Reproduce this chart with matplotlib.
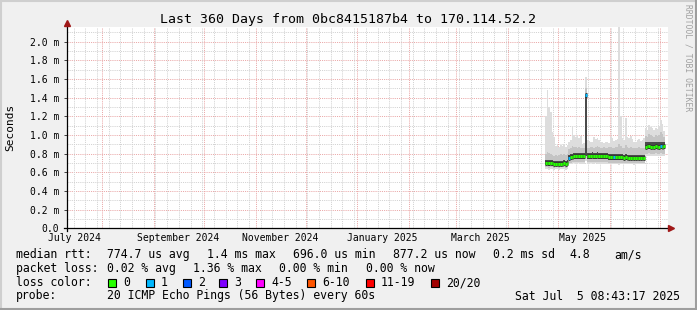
import matplotlib.pyplot as plt
from matplotlib.lines import Line2D
from matplotlib.patches import Rectangle
import numpy as np
import pandas as pd

plt.rcParams['font.family'] = ['DejaVu Sans Mono']

W, H = 697, 310

title = "Last 360 Days from 0bc8415187b4 to 170.114.52.2"
t_start = pd.Timestamp('2024-07-11 06:00')
t_end = pd.Timestamp('2025-07-06 06:00')

# rrd rows, one per day, starting here
bin_start = '2025-04-23 12:00'
bin_freq = '1D'

# median rtt per row (ms) and lost pings per row
median = [0.70, 0.70, 0.70, 0.70, 0.70, 0.69, 0.69, 0.69, 0.69, 0.69, 0.69, 0.70, 0.69, 0.70,
          0.75, 0.76, 0.76, 0.77, 0.77, 0.77, 0.77, 0.77, 0.77, 0.77, 1.43, 0.77,
          0.77, 0.77, 0.78, 0.77, 0.77, 0.78, 0.77, 0.77, 0.77, 0.77, 0.77, 0.77,
          0.76, 0.76, 0.76, 0.76, 0.76, 0.76, 0.76, 0.76, 0.76, 0.75, 0.76, 0.75,
          0.75, 0.75, 0.75, 0.75, 0.75, 0.75, 0.75, 0.75, 0.75, 0.75,
          0.87, 0.88, 0.88, 0.87, 0.87, 0.87, 0.88, 0.87, 0.87, 0.88, 0.87, 0.88]
loss = [0, 0, 0, 0, 0, 0, 0, 0, 0, 0, 0, 0, 0, 0,
        1, 0, 0, 0, 0, 0, 0, 0, 0, 0, 1, 0,
        0, 0, 0, 0, 0, 0, 0, 0, 0, 0, 0, 0,
        0, 0, 0, 1, 0, 0, 0, 0, 0, 0, 0, 0,
        0, 0, 0, 0, 0, 0, 0, 0, 0, 0,
        0, 0, 0, 0, 0, 0, 0, 0, 0, 1, 0, 0]

# smoke: spread of the 20 pings per row (ms)
ping_min = [0.64, 0.64, 0.63, 0.64, 0.64, 0.63, 0.64, 0.64, 0.63, 0.64, 0.64, 0.64, 0.63, 0.64,
            0.69, 0.69, 0.69, 0.70, 0.69, 0.69, 0.70, 0.69, 0.69, 0.69, 0.72, 0.69,
            0.69, 0.70, 0.69, 0.69, 0.70, 0.69, 0.69, 0.69, 0.70, 0.69, 0.69, 0.69,
            0.69, 0.69, 0.69, 0.69, 0.69, 0.69, 0.68, 0.69, 0.69, 0.69, 0.69, 0.69,
            0.69, 0.69, 0.69, 0.68, 0.69, 0.69, 0.69, 0.69, 0.69, 0.69,
            0.78, 0.77, 0.78, 0.78, 0.77, 0.78, 0.78, 0.77, 0.78, 0.78, 0.77, 0.78]
ping_p10 = [0.655, 0.655, 0.65, 0.655, 0.655, 0.65, 0.655, 0.655, 0.65, 0.655, 0.655, 0.655, 0.65, 0.655,
            0.705, 0.705, 0.71, 0.71, 0.71, 0.71, 0.71, 0.71, 0.71, 0.71, 0.75, 0.71,
            0.71, 0.71, 0.71, 0.71, 0.71, 0.71, 0.71, 0.71, 0.71, 0.71, 0.71, 0.71,
            0.705, 0.705, 0.705, 0.705, 0.705, 0.705, 0.70, 0.705, 0.705, 0.70, 0.705, 0.70,
            0.70, 0.70, 0.70, 0.70, 0.70, 0.70, 0.70, 0.70, 0.70, 0.70,
            0.80, 0.80, 0.81, 0.80, 0.80, 0.80, 0.81, 0.80, 0.80, 0.81, 0.80, 0.80]
ping_p25 = [0.675, 0.675, 0.67, 0.675, 0.67, 0.67, 0.67, 0.67, 0.67, 0.67, 0.67, 0.675, 0.67, 0.675,
            0.73, 0.735, 0.74, 0.745, 0.745, 0.745, 0.745, 0.745, 0.745, 0.745, 0.77, 0.745,
            0.745, 0.745, 0.75, 0.745, 0.745, 0.75, 0.745, 0.745, 0.745, 0.745, 0.745, 0.745,
            0.735, 0.735, 0.735, 0.735, 0.735, 0.735, 0.735, 0.735, 0.735, 0.73, 0.735, 0.73,
            0.73, 0.73, 0.73, 0.73, 0.73, 0.73, 0.73, 0.73, 0.73, 0.73,
            0.845, 0.85, 0.85, 0.845, 0.845, 0.845, 0.85, 0.845, 0.845, 0.85, 0.845, 0.85]
ping_p75 = [0.73, 0.73, 0.73, 0.73, 0.73, 0.72, 0.72, 0.72, 0.72, 0.72, 0.72, 0.73, 0.72, 0.73,
            0.79, 0.80, 0.80, 0.81, 0.81, 0.81, 0.81, 0.81, 0.81, 0.81, 1.44, 0.81,
            0.81, 0.81, 0.82, 0.81, 0.81, 0.82, 0.81, 0.81, 0.81, 0.81, 0.81, 0.81,
            0.80, 0.80, 0.80, 0.80, 0.80, 0.80, 0.80, 0.80, 0.80, 0.79, 0.80, 0.79,
            0.79, 0.79, 0.79, 0.79, 0.79, 0.79, 0.79, 0.79, 0.79, 0.79,
            0.92, 0.93, 0.93, 0.92, 0.92, 0.92, 0.93, 0.92, 0.92, 0.93, 0.92, 0.93]
ping_p90 = [0.80, 0.82, 0.81, 0.80, 0.79, 0.78, 0.79, 0.78, 0.79, 0.80, 0.79, 0.80, 0.79, 0.80,
            0.85, 0.86, 0.88, 0.87, 0.87, 0.86, 0.87, 0.86, 0.86, 0.86, 1.50, 0.86,
            0.86, 0.87, 0.87, 0.86, 0.87, 0.88, 0.87, 0.86, 0.86, 0.87, 0.86, 0.86,
            0.87, 0.87, 0.86, 0.86, 0.87, 0.87, 0.90, 0.88, 0.86, 0.86, 0.89, 0.87,
            0.86, 0.87, 0.86, 0.86, 0.86, 0.86, 0.87, 0.86, 0.86, 0.86,
            0.99, 0.98, 1.01, 1.00, 0.99, 0.98, 1.00, 0.99, 1.00, 1.03, 1.01, 0.98]
ping_max = [1.20, 1.48, 1.30, 1.25, 1.03, 0.98, 0.88, 0.90, 0.87, 0.89, 0.88, 0.90, 0.87, 0.89,
            0.93, 0.95, 1.10, 1.00, 0.98, 1.00, 0.97, 0.99, 0.90, 0.91, 1.62, 0.95,
            0.94, 0.93, 0.92, 0.98, 0.96, 0.97, 0.95, 0.92, 0.93, 0.91, 0.92, 0.93,
            0.91, 0.98, 0.97, 0.94, 0.95, 0.96, 2.40, 1.20, 0.97, 0.95, 1.18, 0.98,
            0.97, 0.99, 0.96, 0.93, 0.92, 0.95, 0.96, 0.94, 0.95, 0.97,
            1.07, 1.05, 1.11, 1.09, 1.07, 1.05, 1.08, 1.06, 1.10, 1.16, 1.12, 1.04]

y_ticks = [0.0, 0.2, 0.4, 0.6, 0.8, 1.0, 1.2, 1.4, 1.6, 1.8, 2.0]
y_labels = ['0.0', '0.2 m', '0.4 m', '0.6 m', '0.8 m', '1.0 m',
            '1.2 m', '1.4 m', '1.6 m', '1.8 m', '2.0 m']
x_labels = ['July 2024', 'September 2024', 'November 2024',
            'January 2025', 'March 2025', 'May 2025']
x_label_dates = ['2024-07-16', '2024-09-16', '2024-11-16',
                 '2025-01-16', '2025-03-16', '2025-05-16']

loss_labels = ['0', '1', '2', '3', '4-5', '6-10', '11-19', '20/20']
loss_colors = ['#26ff00', '#00b8ff', '#0059ff', '#7e00ff',
               '#ff00ff', '#ff5500', '#ff0000', '#a10000']

rtt_row = ['median rtt:', '774.7 us avg', '1.4 ms max', '696.0 us min',
           '877.2 us now', '0.2 ms sd', '4.8', 'am/s']
rtt_x = [16, 107, 207, 293, 393, 493, 569, 614]
pl_row = ['packet loss:', '0.02 % avg', '1.36 % max', '0.00 % min', '0.00 % now']
pl_x = [16, 107, 193, 279, 366]
box_x = [108, 146, 183, 219, 256, 307, 366, 431]
probe_text = '20 ICMP Echo Pings (56 Bytes) every 60s'
stamp = 'Sat Jul  5 08:43:17 2025'

# ---------------------------------------------------------------
fig = plt.figure(figsize=(W / 100, H / 100), dpi=100, facecolor='#f0f0f0')

x0, x1 = 67, 668
y0, y1 = 228.3, 27
ax = fig.add_axes([x0 / W, (H - y0) / H, (x1 - x0) / W, (y0 - y1) / H])
ax.set_facecolor('white')
ymax = (y0 - y1) / 93.3
ax.set_xlim(t_start, t_end)
ax.set_ylim(0, ymax)

# grid
dot = (0, (1.1, 1.1))
for v in np.arange(0.1, ymax, 0.2):
    ax.axhline(v, color='#d2d2d2', lw=0.7, ls=dot, zorder=0)
for v in y_ticks[1:]:
    ax.axhline(v, color='#eaa8a8', lw=0.7, ls=dot, zorder=0)
weeks = pd.date_range(t_start, t_end, freq='W-MON')
months = pd.date_range(t_start, t_end, freq='MS')
for d in weeks:
    ax.axvline(d, color='#d2d2d2', lw=0.7, ls=dot, zorder=0)
for d in months:
    ax.axvline(d, color='#eaa8a8', lw=0.7, ls=dot, zorder=0)

# smoke
edges = pd.date_range(bin_start, periods=len(median) + 1, freq=bin_freq)
def ext(a):
    return list(a) + [a[-1]]
ax.fill_between(edges, ext(ping_min), ext(ping_max), step='post',
                color='#dddddd', lw=0, zorder=1)
ax.fill_between(edges, ext(ping_p10), ext(ping_p90), step='post',
                color='#c4c4c4', lw=0, zorder=2)
ax.fill_between(edges, ext(ping_p25), ext(ping_p75), step='post',
                color='#4a4a4a', lw=0, zorder=3)

# median, colored by loss, with dark rim
ax.hlines(median, edges[:-1], edges[1:], colors='#303030', lw=3.4, zorder=4)
ax.hlines(median, edges[:-1], edges[1:],
          colors=[loss_colors[n] for n in loss], lw=2.2, zorder=5)

ax.set_yticks(y_ticks)
ax.set_yticklabels(y_labels, fontsize=7)
ax.set_xticks(pd.to_datetime(x_label_dates))
ax.set_xticklabels(x_labels, fontsize=7)
ax.tick_params(axis='x', length=0, pad=3.5)
ax.tick_params(axis='y', length=2.5, width=0.7, color='#404040', pad=3)
for s in ax.spines.values():
    s.set_visible(False)

def fx(px):
    return px / W
def fy(py):
    return 1 - py / H

fig.text(fx(10), fy(127.6), 'Seconds', fontsize=8, rotation=90,
         ha='center', va='center')

# axes lines with arrows
fig.add_artist(Line2D([fx(64), fx(670)], [fy(y0), fy(y0)], color='black', lw=0.9))
fig.add_artist(Line2D([fx(66.7), fx(66.7)], [fy(231), fy(24)], color='black', lw=0.9))
fig.add_artist(Line2D([fx(671)], [fy(y0)], marker='>', ms=4.5, color='#a01818', ls=''))
fig.add_artist(Line2D([fx(66.7)], [fy(23)], marker='^', ms=4.5, color='#a01818', ls=''))

# border
fig.add_artist(Line2D([fx(1), fx(1)], [fy(0), fy(H)], color='#cfcfcf', lw=1.5))
fig.add_artist(Line2D([fx(0), fx(W)], [fy(1), fy(1)], color='#cfcfcf', lw=1.5))
fig.add_artist(Line2D([fx(W - 1), fx(W - 1)], [fy(0), fy(H)], color='#9e9e9e', lw=1.5))
fig.add_artist(Line2D([fx(0), fx(W)], [fy(H - 1), fy(H - 1)], color='#9e9e9e', lw=1.5))

fig.text(fx(348), fy(19), title, fontsize=9.5, ha='center', va='center')
fig.text(fx(688), fy(4), 'RRDTOOL / TOBI OETIKER', fontsize=5.8, color='#a0a0a0',
         rotation=270, ha='center', va='top')

fs = 8.3
for t, x in zip(rtt_row, rtt_x):
    fig.text(fx(x), fy(254.7), t, fontsize=fs, va='center')
for t, x in zip(pl_row, pl_x):
    fig.text(fx(x), fy(268.7), t, fontsize=fs, va='center')
fig.text(fx(16), fy(282.7), 'loss color:', fontsize=fs, va='center')
for lab, col, x in zip(loss_labels, loss_colors, box_x):
    fig.add_artist(Rectangle((fx(x), fy(287)), 8 / W, 8 / H, facecolor=col,
                             edgecolor='black', lw=0.8))
    fig.text(fx(x + 15), fy(282.7), lab, fontsize=fs, va='center')
fig.text(fx(16), fy(296), 'probe:', fontsize=fs, va='center')
fig.text(fx(107), fy(296), probe_text, fontsize=fs, va='center')
fig.text(fx(680), fy(296), stamp, fontsize=fs, va='center', ha='right')

fig.savefig('out.png', dpi=100, facecolor=fig.get_facecolor())
